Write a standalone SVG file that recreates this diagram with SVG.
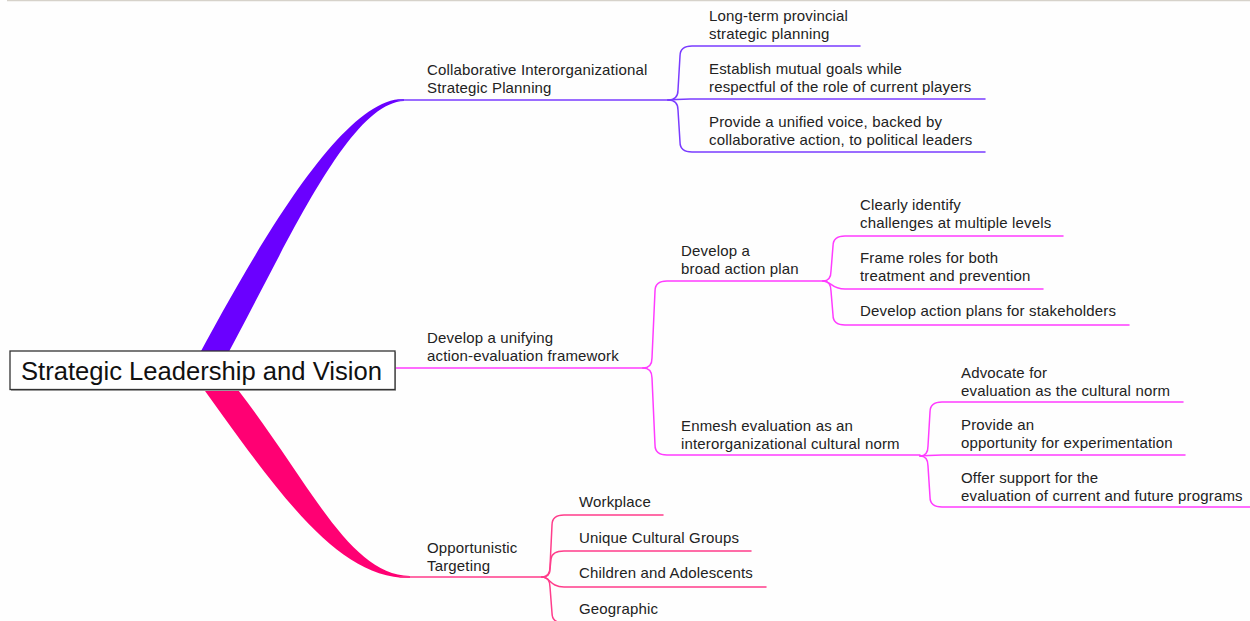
<svg xmlns="http://www.w3.org/2000/svg" width="1250" height="621" viewBox="0 0 1250 621">
  <style>
    .lbl { font-family: "Liberation Sans", Arial, sans-serif; font-size: 15px; letter-spacing: 0.16px; fill: #222; }
    .root { font-family: "Liberation Sans", Arial, sans-serif; font-size: 25.6px; fill: #111; }
    .ln { fill: none; stroke-width: 1.5; stroke-linecap: round; }
    .purple { stroke: #7a3cff; }
    .magenta { stroke: #ff3cff; }
    .pink { stroke: #ff3d8b; }
  </style>
  <rect width="1250" height="621" fill="#fefefe"/>
  <line x1="7" y1="0.5" x2="1250" y2="0.5" stroke="#d6d2ca" stroke-width="1.5"/>

  <g id="connectors">
    <!-- tapered main branches -->
    <path d="M191,370 C257,246 343,97 404,99 L404,101 C347,103 283,254 219,370 Z" fill="#6a00ff"/>
    <path d="M190,370 C275,488 335,579 410,578 L410,576 C345,575 305,470 222,370 Z" fill="#ff0073"/>
    <!-- first-level lines -->
    <path class="ln purple" d="M398,100 L668,100"/>
    <path class="ln magenta" d="M395,368 L643,368"/>
    <path class="ln pink" d="M400,577 L542,577"/>
    <!-- Collaborative planning children -->
    <path class="ln purple" d="M668,100 Q678,100 678,90 L680,56 Q680,46 692,46 L860,46"/>
    <path class="ln purple" d="M668,100 C676,100 678,99 690,99 L985,99"/>
    <path class="ln purple" d="M668,100 Q678,100 678,110 L680,142 Q680,152 692,152 L985,152"/>
    <!-- framework children -->
    <path class="ln magenta" d="M643,368 Q652,368 652,358 L655,291 Q655,281 667,281 L823,281"/>
    <path class="ln magenta" d="M643,368 Q652,368 652,378 L655,445 Q655,455 667,455 L920,455"/>
    <!-- broad action plan children -->
    <path class="ln magenta" d="M823,281 Q831,281 831,271 L833,246 Q833,236 845,236 L1063,236"/>
    <path class="ln magenta" d="M823,281 C831,281 831,289 845,289 L1043,289"/>
    <path class="ln magenta" d="M823,281 Q831,281 831,291 L833,315 Q833,325 845,325 L1129,325"/>
    <!-- evaluation norm children -->
    <path class="ln magenta" d="M920,456 Q928,456 928,446 L930,412 Q930,402 942,402 L1183,402"/>
    <path class="ln magenta" d="M920,456 C928,456 930,455 942,455 L1185,455"/>
    <path class="ln magenta" d="M920,456 Q928,456 928,466 L930,497 Q930,507 942,507 L1250,507"/>
    <!-- targeting children -->
    <path class="ln pink" d="M542,577 Q550,577 550,567 L552,525 Q552,515 564,515 L663,515"/>
    <path class="ln pink" d="M542,577 Q550,577 550,569 L551,559 Q552,551 564,551 L751,551"/>
    <path class="ln pink" d="M542,577 C550,577 550,587 564,587 L766,587"/>
    <path class="ln pink" d="M542,577 Q550,577 550,587 L552,613 Q552,623 564,623 L700,623"/>
  </g>

  <g id="root">
    <rect x="11" y="352" width="385" height="39" fill="#aaa"/>
    <rect x="10" y="351" width="385" height="38.5" fill="#fff" stroke="#333" stroke-width="1.3"/>
    <text class="root" x="21" y="380">Strategic Leadership and Vision</text>
  </g>

  <g id="collab">
    <text class="lbl" x="427" y="75">Collaborative Interorganizational</text>
    <text class="lbl" x="427" y="93">Strategic Planning</text>
  </g>
  <g id="longterm">
    <text class="lbl" x="709" y="21">Long-term provincial</text>
    <text class="lbl" x="709" y="39">strategic planning</text>
  </g>
  <g id="mutual">
    <text class="lbl" x="709" y="74">Establish mutual goals while</text>
    <text class="lbl" x="709" y="92">respectful of the role of current players</text>
  </g>
  <g id="voice">
    <text class="lbl" x="709" y="127">Provide a unified voice, backed by</text>
    <text class="lbl" x="709" y="145">collaborative action, to political leaders</text>
  </g>

  <g id="framework">
    <text class="lbl" x="427" y="343">Develop a unifying</text>
    <text class="lbl" x="427" y="361">action-evaluation framework</text>
  </g>
  <g id="broadplan">
    <text class="lbl" x="681" y="256">Develop a</text>
    <text class="lbl" x="681" y="274">broad action plan</text>
  </g>
  <g id="identify">
    <text class="lbl" x="860" y="210">Clearly identify</text>
    <text class="lbl" x="860" y="228">challenges at multiple levels</text>
  </g>
  <g id="roles">
    <text class="lbl" x="860" y="263">Frame roles for both</text>
    <text class="lbl" x="860" y="281">treatment and prevention</text>
  </g>
  <g id="stakeholders">
    <text class="lbl" x="860" y="316">Develop action plans for stakeholders</text>
  </g>
  <g id="enmesh">
    <text class="lbl" x="681" y="431">Enmesh evaluation as an</text>
    <text class="lbl" x="681" y="449">interorganizational cultural norm</text>
  </g>
  <g id="advocate">
    <text class="lbl" x="961" y="378">Advocate for</text>
    <text class="lbl" x="961" y="396">evaluation as the cultural norm</text>
  </g>
  <g id="experiment">
    <text class="lbl" x="961" y="430">Provide an</text>
    <text class="lbl" x="961" y="448">opportunity for experimentation</text>
  </g>
  <g id="support">
    <text class="lbl" x="961" y="483">Offer support for the</text>
    <text class="lbl" x="961" y="501">evaluation of current and future programs</text>
  </g>

  <g id="targeting">
    <text class="lbl" x="427" y="553">Opportunistic</text>
    <text class="lbl" x="427" y="571">Targeting</text>
  </g>
  <g id="workplace"><text class="lbl" x="579" y="507">Workplace</text></g>
  <g id="cultural"><text class="lbl" x="579" y="543">Unique Cultural Groups</text></g>
  <g id="children"><text class="lbl" x="579" y="578">Children and Adolescents</text></g>
  <g id="geographic"><text class="lbl" x="579" y="614">Geographic</text></g>
</svg>
